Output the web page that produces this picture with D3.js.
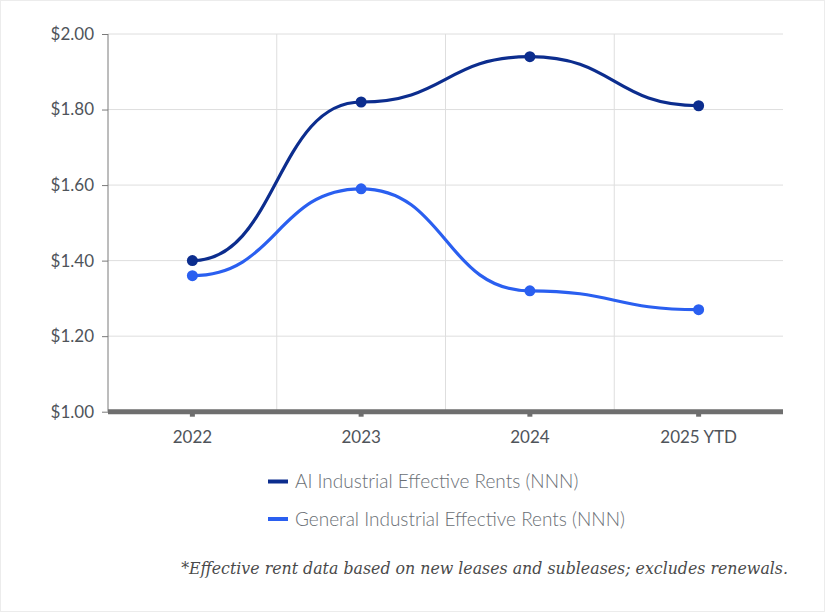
<!DOCTYPE html>
<html>
<head>
<meta charset="utf-8">
<script src="https://cdn.jsdelivr.net/npm/d3@7"></script>
<style>
  body { margin: 0; background: #fff; }
</style>
</head>
<body>
<div id="rent_chart"></div>
<script>
const categories = ['2022', '2023', '2024', '2025 YTD'];
const aiRents = [1.40, 1.82, 1.94, 1.81];
const generalRents = [1.36, 1.59, 1.32, 1.27];
const yTicks = [1.00, 1.20, 1.40, 1.60, 1.80, 2.00];
const seriesNames = ['AI Industrial Effective Rents (NNN)', 'General Industrial Effective Rents (NNN)'];
const footnote = '*Effective rent data based on new leases and subleases; excludes renewals.';

const width = 825;
const height = 612;
const plot = {left: 108, right: 783, top: 34, bottom: 411.7};
const colors = ['#0c2d8e', '#2a5ff0'];

const svg = d3.select('#rent_chart')
  .append('svg')
  .attr('width', width)
  .attr('height', height);

// faint frame round the picture
svg.append('rect')
  .attr('x', 0.5).attr('y', 0.5)
  .attr('width', width - 1).attr('height', height - 1)
  .attr('fill', '#fff')
  .attr('stroke', '#ececec');

const xScale = d3.scaleBand().domain(categories).range([plot.left, plot.right]);
const yScale = d3.scaleLinear().domain([1, 2]).range([plot.bottom, plot.top]);

// horizontal grid
svg.append('g')
  .selectAll('line')
  .data(yTicks.slice(1))
  .enter()
  .append('line')
  .attr('x1', plot.left).attr('x2', plot.right)
  .attr('y1', d => yScale(d)).attr('y2', d => yScale(d))
  .style('stroke', '#dedede')
  .style('stroke-width', 1);

// vertical grid at the band edges
svg.append('g')
  .selectAll('line')
  .data(categories.slice(1))
  .enter()
  .append('line')
  .attr('x1', d => xScale(d)).attr('x2', d => xScale(d))
  .attr('y1', plot.top).attr('y2', plot.bottom)
  .style('stroke', '#dedede')
  .style('stroke-width', 1);

// left axis and ticks
const yAxis = svg.append('g')
  .attr('transform', `translate(${plot.left},0)`)
  .call(d3.axisLeft(yScale).tickValues(yTicks).tickSize(6).tickPadding(8)
    .tickFormat(d => '$' + d3.format('.2f')(d)));
yAxis.select('.domain').attr('stroke', '#7a7a7a').attr('d', `M0,${plot.top}V${plot.bottom}`);
yAxis.selectAll('.tick line').attr('stroke', '#7a7a7a');
yAxis.selectAll('text')
  .style('font-family', 'Lato, sans-serif')
  .style('font-size', '17px')
  .style('fill', '#4f545a');

// bottom axis: thick bar with small nubs
const xAxis = svg.append('g')
  .attr('transform', `translate(0,${plot.bottom})`)
  .call(d3.axisBottom(xScale).tickSize(5).tickPadding(14));
xAxis.select('.domain').remove();
xAxis.selectAll('.tick line').attr('stroke', '#6e6e6e').attr('stroke-width', 5);
xAxis.selectAll('text')
  .style('font-family', 'Lato, sans-serif')
  .style('font-size', '17px')
  .style('fill', '#4f545a');
svg.append('line')
  .attr('x1', plot.left).attr('x2', plot.right)
  .attr('y1', plot.bottom).attr('y2', plot.bottom)
  .style('stroke', '#6e6e6e')
  .style('stroke-width', 5);

// series lines and points
const line = d3.line()
  .x((d, i) => xScale(categories[i]) + xScale.bandwidth() / 2)
  .y(d => yScale(d))
  .curve(d3.curveBumpX);

[aiRents, generalRents].forEach((values, s) => {
  svg.append('path')
    .datum(values)
    .attr('d', line)
    .style('fill', 'none')
    .style('stroke', colors[s])
    .style('stroke-width', 3.2);

  svg.append('g')
    .selectAll('circle')
    .data(values)
    .enter()
    .append('circle')
    .attr('cx', (d, i) => xScale(categories[i]) + xScale.bandwidth() / 2)
    .attr('cy', d => yScale(d))
    .attr('r', 5.5)
    .style('fill', colors[s]);
});

// legend
const legend = svg.append('g')
  .selectAll('g')
  .data(seriesNames)
  .enter()
  .append('g')
  .attr('transform', (d, i) => `translate(268,${481.5 + i * 37.5})`);
legend.append('line')
  .attr('x1', 0).attr('x2', 20)
  .style('stroke', (d, i) => colors[i])
  .style('stroke-width', 4);
legend.append('text')
  .attr('x', 27)
  .attr('dy', '0.35em')
  .style('font-family', 'Lato, sans-serif')
  .style('font-size', '19px')
  .style('font-weight', 300)
  .style('fill', '#6a6f75')
  .text(d => d);

// footnote
svg.append('text')
  .attr('x', 788)
  .attr('y', 574)
  .attr('text-anchor', 'end')
  .style('font-family', '"DejaVu Serif", serif')
  .style('font-style', 'italic')
  .style('font-size', '15.8px')
  .style('fill', '#4a4a4a')
  .text(footnote);
</script>
</body>
</html>
